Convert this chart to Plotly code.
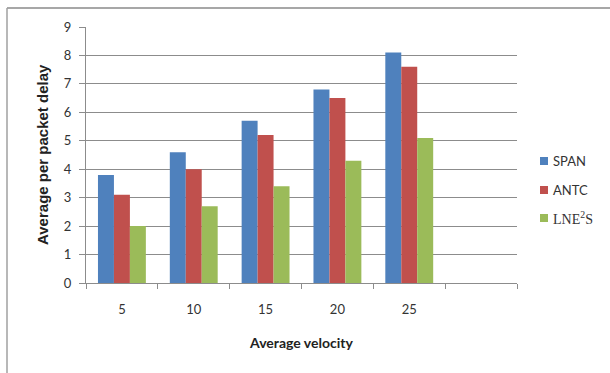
import plotly.graph_objects as go

# Average per-packet delay by average velocity for three schemes
velocities = ["5", "10", "15", "20", "25"]
span_delay = [3.8, 4.6, 5.7, 6.8, 8.1]
antc_delay = [3.1, 4.0, 5.2, 6.5, 7.6]
lne2s_delay = [2.0, 2.7, 3.4, 4.3, 5.1]

# one extra empty slot at the end of the category axis
categories = velocities + [" "]

series_names = ["SPAN", "ANTC", "LNE<sup>2</sup>S"]
series_values = [span_delay, antc_delay, lne2s_delay]
series_colors = ["#4F81BD", "#C0504D", "#9BBB59"]
series_fonts = ["Lato, Open Sans, sans-serif", "Lato, Open Sans, sans-serif",
                "Liberation Serif, Times New Roman, serif"]

fig = go.Figure()
for name, vals, color in zip(series_names, series_values, series_colors):
    fig.add_trace(go.Bar(
        x=velocities, y=vals, name=name,
        marker=dict(color=color, line=dict(width=0)),
        showlegend=False,
    ))

W, H = 610, 373
L, R, T, B = 86, 517, 27, 283

def px_x(p):
    return (p - L) / (R - L)

def px_y(p):
    return (B - p) / (B - T)

axis_color = "#8C8C8C"
font_family = "Lato, Open Sans, sans-serif"

# frame lines along the top and left edges
shapes = [
    dict(type="line", xref="paper", yref="paper",
         x0=px_x(7), x1=px_x(W + 5), y0=px_y(8), y1=px_y(8),
         line=dict(color="#8A8A8A", width=1.5)),
    dict(type="line", xref="paper", yref="paper",
         x0=px_x(7), x1=px_x(7), y0=px_y(8), y1=px_y(H + 5),
         line=dict(color="#A0A0A0", width=1.5)),
]

# rotated y-axis title
annotations = [
    dict(xref="paper", yref="paper", x=px_x(42), y=px_y(155),
         xanchor="center", yanchor="middle", showarrow=False, textangle=-90,
         text="<b>Average per packet delay</b>",
         font=dict(size=15, color="#222222", family="Liberation Sans, Arial, sans-serif")),
]

# small square keys plus labels to the right of the plot
key_rows = [161, 190, 218]
for name, color, fam, yc in zip(series_names, series_colors, series_fonts, key_rows):
    shapes.append(dict(type="rect", xref="paper", yref="paper",
                       x0=px_x(540), x1=px_x(548), y0=px_y(yc + 4), y1=px_y(yc - 4),
                       fillcolor=color, line=dict(width=0)))
    annotations.append(dict(xref="paper", yref="paper", x=px_x(551), y=px_y(yc),
                            xanchor="left", yanchor="middle", showarrow=False,
                            text=name, font=dict(family=fam, size=13 if fam == font_family else 14,
                                                 color="#333333")))

fig.update_layout(
    width=W, height=H,
    margin=dict(l=L, r=W - R, t=T, b=H - B, pad=0, autoexpand=False),
    paper_bgcolor="white", plot_bgcolor="white",
    barmode="group", bargap=1/3, bargroupgap=0,
    font=dict(family=font_family, size=13, color="#333333"),
    showlegend=False,
    xaxis=dict(
        type="category", categoryorder="array", categoryarray=categories,
        range=[-0.5, 5.5], tickson="boundaries",
        showline=True, linecolor=axis_color, linewidth=1,
        ticks="outside", ticklen=5, tickcolor=axis_color,
        showgrid=False, ticklabelstandoff=14,
        tickfont=dict(size=13, color="#333333"),
        title=dict(text="<b>Average velocity</b>", standoff=22,
                   font=dict(size=14, color="#222222")),
        automargin=False,
    ),
    yaxis=dict(
        range=[0, 9], dtick=1, tick0=0,
        showline=True, linecolor=axis_color, linewidth=1,
        ticks="outside", ticklen=6, tickcolor=axis_color,
        showgrid=True, gridcolor=axis_color, gridwidth=1,
        zeroline=False, ticklabelstandoff=5,
        tickfont=dict(size=13, color="#333333"),
        automargin=False,
    ),
    shapes=shapes,
    annotations=annotations,
)

fig.write_html("out.html")
